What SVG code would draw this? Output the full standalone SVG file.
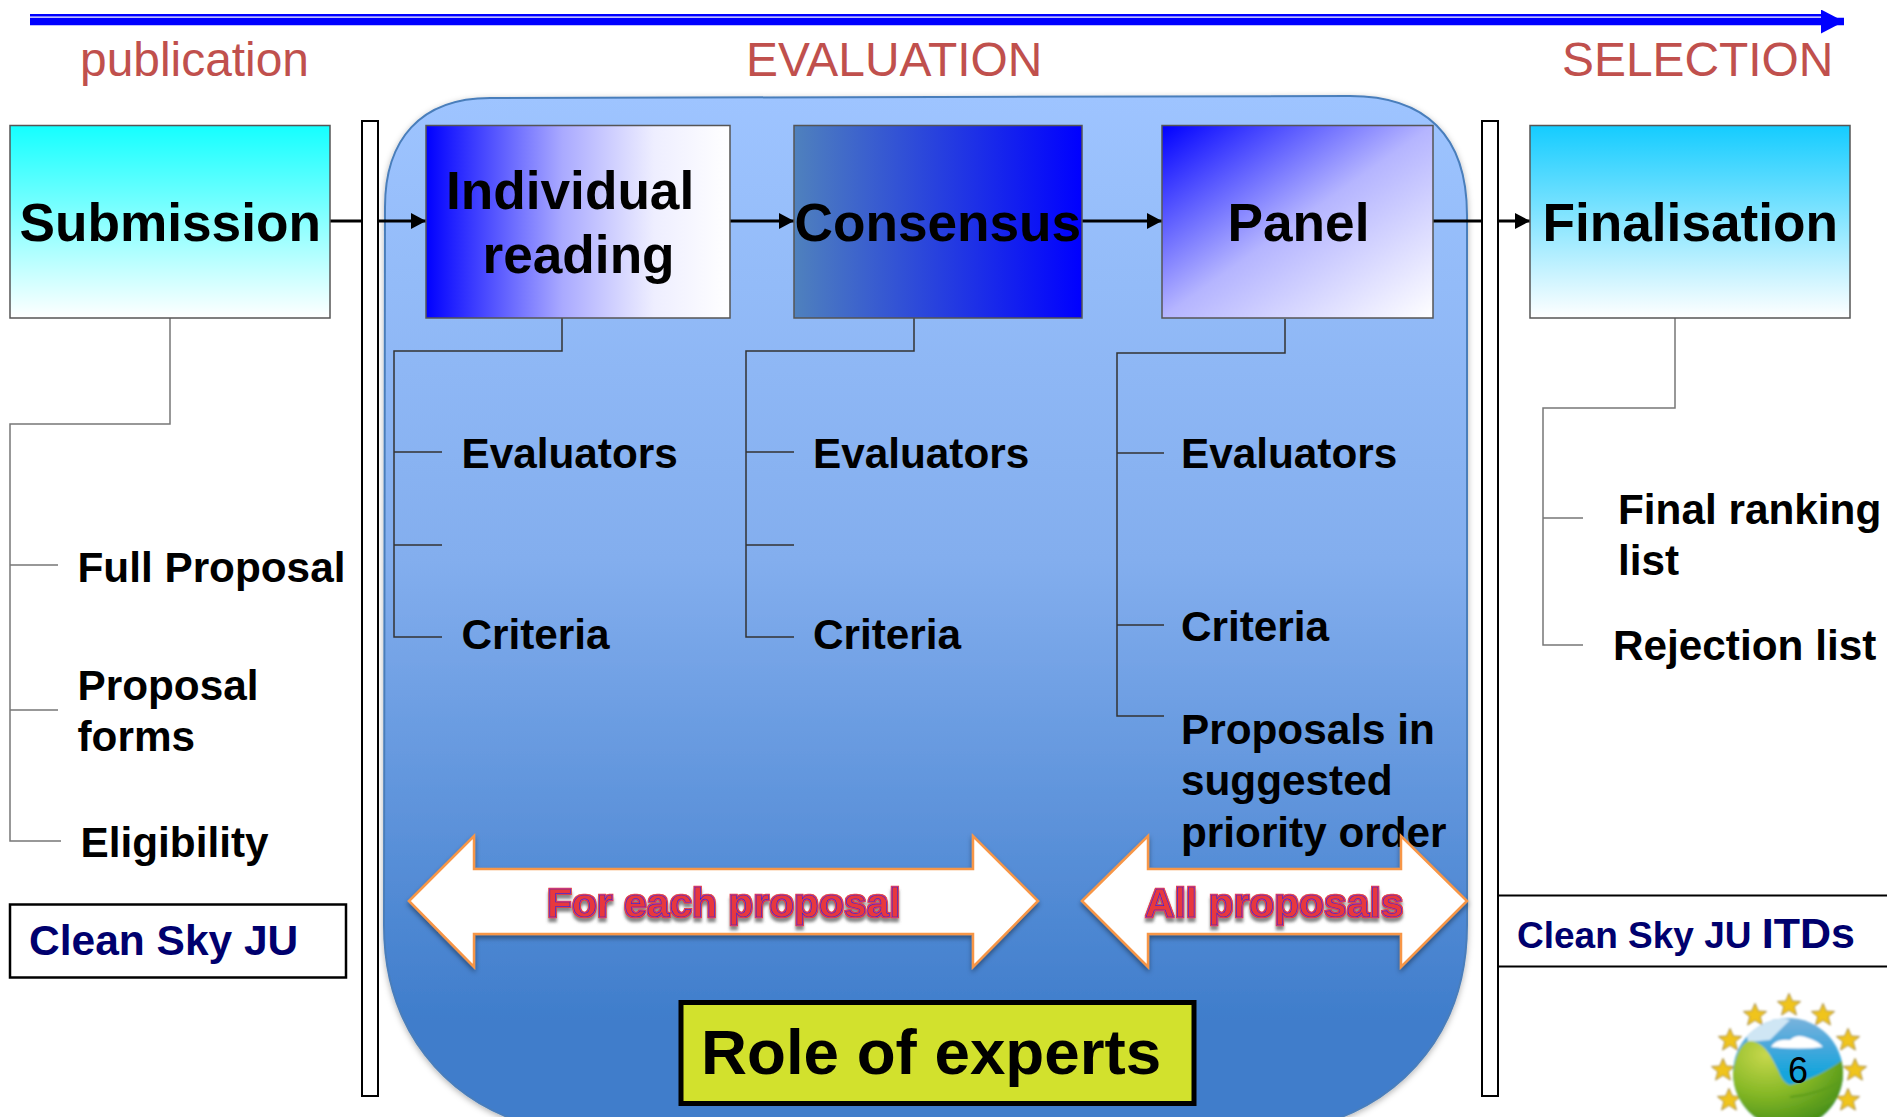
<svg xmlns="http://www.w3.org/2000/svg" xmlns:xlink="http://www.w3.org/1999/xlink" width="1887" height="1117" viewBox="0 0 1887 1117">
<style>
text{font-family:"Liberation Sans",Arial,sans-serif;font-weight:bold;fill:#000}
.phase{font-size:47.9px;font-weight:normal;fill:#c0504d}
.title{font-size:53.2px}
.item{font-size:42.3px}
.node{stroke:#555;stroke-width:1.5}
.tree{fill:none;stroke:#333;stroke-width:1.5}
.treew{fill:none;stroke:#777;stroke-width:1.5}
.flow{fill:none;stroke:#000;stroke-width:3}
.bar{fill:#fff;stroke:#000;stroke-width:2}
.dbl{fill:#fff;stroke:#f79646;stroke-width:2.5;filter:url(#sh)}
.art{font-size:40.8px;fill:#e8383c;stroke:#2a2ad8;stroke-width:0.7;filter:url(#wa)}
.who{fill:#00006e}
</style>
<defs>
<linearGradient id="gPanel" x1="0" y1="0" x2="0" y2="1"><stop offset="0" stop-color="#9ec4ff"/><stop offset="0.45" stop-color="#83aeee"/><stop offset="0.9" stop-color="#3f7dcb"/><stop offset="1" stop-color="#3f7dcb"/></linearGradient>
<linearGradient id="gSub" x1="0" y1="0" x2="0" y2="1"><stop offset="0" stop-color="#14ffff"/><stop offset="1" stop-color="#fff"/></linearGradient>
<linearGradient id="gFin" x1="0" y1="0" x2="0" y2="1"><stop offset="0" stop-color="#14ccff"/><stop offset="1" stop-color="#fff"/></linearGradient>
<linearGradient id="gInd" x1="0" y1="0" x2="1" y2="0"><stop offset="0" stop-color="#0000ff"/><stop offset="0.45" stop-color="#aaaaff"/><stop offset="0.75" stop-color="#eeeeff"/><stop offset="1" stop-color="#fff"/></linearGradient>
<linearGradient id="gCon" x1="0" y1="0" x2="1" y2="0"><stop offset="0" stop-color="#4f81bd"/><stop offset="1" stop-color="#0000ff"/></linearGradient>
<linearGradient id="gPan" x1="0" y1="0" x2="1" y2="1"><stop offset="0" stop-color="#0000ff"/><stop offset="0.5" stop-color="#b5b5ff"/><stop offset="1" stop-color="#fff"/></linearGradient>
<linearGradient id="gSky" x1="0" y1="0" x2="0" y2="1"><stop offset="0" stop-color="#7fb4dc"/><stop offset="0.25" stop-color="#4aa8dc"/><stop offset="0.5" stop-color="#12a5dc"/></linearGradient>
<radialGradient id="gHill" cx="0.3" cy="0.15" r="0.9"><stop offset="0" stop-color="#c8d84c"/><stop offset="0.5" stop-color="#86b826"/><stop offset="1" stop-color="#3f8a16"/></radialGradient>
<filter id="sh" x="-5%" y="-10%" width="110%" height="125%"><feDropShadow dx="0" dy="3" stdDeviation="2.5" flood-color="#000" flood-opacity="0.4"/></filter>
<filter id="pshadow" x="-3%" y="-3%" width="106%" height="106%"><feDropShadow dx="0" dy="2" stdDeviation="3" flood-color="#000" flood-opacity="0.3"/></filter>
<filter id="wa" x="-5%" y="-15%" width="110%" height="140%">
<feMorphology in="SourceAlpha" operator="dilate" radius="1.4" result="d"/>
<feFlood flood-color="#e03a3e"/><feComposite in2="d" operator="in" result="red"/>
<feOffset in="d" dy="4" result="o"/><feGaussianBlur in="o" stdDeviation="1.5" result="b"/>
<feFlood flood-color="#555" flood-opacity="0.7"/><feComposite in2="b" operator="in" result="shadow"/>
<feMerge><feMergeNode in="shadow"/><feMergeNode in="red"/><feMergeNode in="SourceGraphic"/></feMerge>
</filter>
<filter id="soft"><feGaussianBlur stdDeviation="0.8"/></filter>
<marker id="ah" markerUnits="userSpaceOnUse" markerWidth="16" markerHeight="16" refX="15" refY="8" orient="auto"><path d="M0 0L15 8L0 16Z" fill="#000"/></marker>
<marker id="bh" markerUnits="userSpaceOnUse" markerWidth="24" markerHeight="24" refX="23" refY="12" orient="auto"><path d="M0 0L23 12L0 24Z" fill="#00f"/></marker>
<clipPath id="globe"><circle cx="1788" cy="1073" r="55"/></clipPath>
<path id="star" d="M0 -11.500L3.300 -3.900L11.500 -3.500L5.200 1.700L7.400 10L0 5.300L-7.400 10L-5.200 1.700L-11.500 -3.500L-3.300 -3.900Z" fill="#f0c41e" stroke="#a58a3a" stroke-width="1"/>
</defs>

<g id="timeline">
<rect x="30" y="14" width="1793" height="2.5" fill="#00f"/>
<path d="M30 21.5H1844" fill="none" stroke="#00f" stroke-width="7.5" marker-end="url(#bh)"/>
</g>
<g id="phases">
<text class="phase" x="80" y="76">publication</text>
<text class="phase" x="746" y="76">EVALUATION</text>
<text class="phase" x="1562" y="76">SELECTION</text>
</g>

<g id="evaluation-panel">
<path d="M385 207C385 140 420 98 490 98L1350 96C1425 96 1467 135 1467 215V925C1467 1030 1405 1100 1319 1125H530C445 1100 384 1030 384 925Z" fill="url(#gPanel)" stroke="#4a7ebb" stroke-width="2" filter="url(#pshadow)"/>
</g>

<g id="bars">
<rect class="bar" x="362" y="121" width="16" height="975"/>
<rect class="bar" x="1482" y="121" width="16" height="975"/>
</g>

<g id="connectors">
<path class="flow" d="M330 221H362"/>
<path class="flow" d="M378 221H426" marker-end="url(#ah)"/>
<path class="flow" d="M730 221H794" marker-end="url(#ah)"/>
<path class="flow" d="M1082 221H1162" marker-end="url(#ah)"/>
<path class="flow" d="M1433 221H1482"/>
<path class="flow" d="M1498 221H1530" marker-end="url(#ah)"/>
<path class="treew" d="M170 318V424H10V841H61M10 565H58M10 710H58"/>
<path class="tree" d="M562 318V351H394V637H442M394 452H442M394 545H442"/>
<path class="tree" d="M914 318V351H746V637H794M746 452H794M746 545H794"/>
<path class="tree" d="M1285 319V353H1117V716H1164M1117 453H1164M1117 625H1164"/>
<path class="treew" d="M1675 318V408H1543V645H1583M1543 518H1583"/>
</g>

<g id="submission">
<rect class="node" x="10" y="125.500" width="320" height="192.500" fill="url(#gSub)"/>
<text class="title" x="19.500" y="241">Submission</text>
</g>
<g id="individual-reading">
<rect class="node" x="426" y="125.500" width="304" height="192.500" fill="url(#gInd)"/>
<text class="title" x="446" y="209">Individual</text>
<text class="title" x="482.500" y="273">reading</text>
</g>
<g id="consensus">
<rect class="node" x="794" y="125.500" width="288" height="192.500" fill="url(#gCon)"/>
<text class="title" x="794.500" y="241">Consensus</text>
</g>
<g id="panel">
<rect class="node" x="1162" y="125.500" width="271" height="192.500" fill="url(#gPan)"/>
<text class="title" x="1227.500" y="241">Panel</text>
</g>
<g id="finalisation">
<rect class="node" x="1530" y="125.500" width="320" height="192.500" fill="url(#gFin)"/>
<text class="title" x="1542.500" y="241">Finalisation</text>
</g>

<g id="submission-items">
<text class="item" x="77.500" y="582">Full Proposal</text>
<text class="item" x="77.500" y="700">Proposal</text>
<text class="item" x="77.500" y="751">forms</text>
<text class="item" x="80.500" y="857">Eligibility</text>
</g>
<g id="individual-items">
<text class="item" x="461.500" y="468">Evaluators</text>
<text class="item" x="461.500" y="649">Criteria</text>
</g>
<g id="consensus-items">
<text class="item" x="813" y="468">Evaluators</text>
<text class="item" x="813" y="649">Criteria</text>
</g>
<g id="panel-items">
<text class="item" x="1181" y="468">Evaluators</text>
<text class="item" x="1181" y="641">Criteria</text>
<text class="item" x="1181" y="744">Proposals in</text>
<text class="item" x="1181" y="795">suggested</text>
<text class="item" x="1181" y="847">priority order</text>
</g>
<g id="final-items">
<text class="item" x="1618" y="524">Final ranking</text>
<text class="item" x="1618" y="575">list</text>
<text class="item" x="1613" y="660">Rejection list</text>
</g>

<g id="clean-sky-ju">
<rect x="10" y="904.500" width="336" height="73" fill="#fff" stroke="#000" stroke-width="2.5"/>
<text class="who" x="29" y="955" font-size="42.500">Clean Sky JU</text>
</g>
<g id="clean-sky-itds">
<rect x="1498" y="895.500" width="400" height="71" fill="#fff" stroke="#000" stroke-width="2"/>
<text class="who" x="1517" y="948" font-size="37">Clean Sky JU <tspan font-size="43">ITDs</tspan></text>
</g>

<g id="for-each-proposal">
<path class="dbl" d="M409 901L474 836V869H973V836L1038 901L973 967V934H474V967Z"/>
<text class="art" x="547" y="917">For each proposal</text>
</g>
<g id="all-proposals">
<path class="dbl" d="M1082 901L1148 836V869H1401V836L1467 901L1401 967V934H1148V967Z"/>
<text class="art" x="1145" y="917">All proposals</text>
</g>
<g id="role-of-experts">
<rect x="681" y="1002.500" width="513" height="101" fill="#d2e12d" stroke="#000" stroke-width="5"/>
<text x="701" y="1074" font-size="63.700">Role of experts</text>
</g>

<g id="logo">
<g filter="url(#soft)">
<use xlink:href="#star" href="#star" x="1789" y="1005"/>
<use xlink:href="#star" href="#star" x="1755" y="1015"/>
<use xlink:href="#star" href="#star" x="1823" y="1015"/>
<use xlink:href="#star" href="#star" x="1730" y="1040"/>
<use xlink:href="#star" href="#star" x="1848" y="1040"/>
<use xlink:href="#star" href="#star" x="1723" y="1070"/>
<use xlink:href="#star" href="#star" x="1855" y="1070"/>
<use xlink:href="#star" href="#star" x="1729" y="1100"/>
<use xlink:href="#star" href="#star" x="1848" y="1100"/>
<g clip-path="url(#globe)">
<rect x="1730" y="1015" width="120" height="120" fill="url(#gSky)"/>
<path d="M1745 1024Q1770 1014 1790 1020L1770 1040L1748 1042Z" fill="#cfe6f4"/>
<path d="M1771 1047Q1776 1038 1790 1040Q1797 1033 1808 1038Q1818 1041 1823 1047Q1800 1050 1771 1047Z" fill="#fff"/>
<path d="M1733 1073C1736 1052 1743 1042 1750 1041C1765 1042 1772 1058 1778 1070C1782 1080 1785 1083 1790 1085C1810 1080 1830 1070 1845 1058V1130H1733Z" fill="url(#gHill)"/>
<path d="M1790 1097Q1820 1094 1843 1080M1800 1110Q1825 1106 1843 1094" fill="none" stroke="#5c9c1c" stroke-width="2"/>
</g>
</g>
<text x="1788" y="1083" font-size="36" style="font-weight:normal">6</text>
</g>
</svg>
